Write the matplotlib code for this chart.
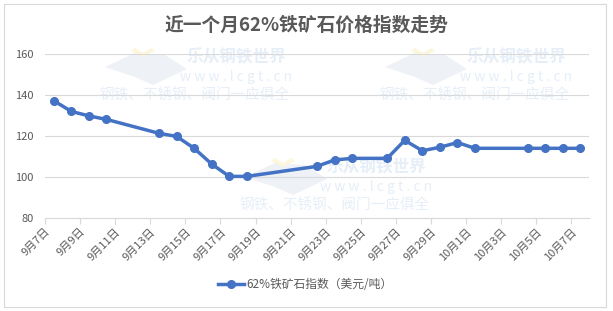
import pandas as pd
import numpy as np
import matplotlib
matplotlib.use("Agg")
import matplotlib.pyplot as plt
from matplotlib.patches import Polygon, Rectangle

plt.rcParams['font.family'] = ['Noto Sans CJK SC', 'DejaVu Sans']

# 数据
dates = ['2023-09-07', '2023-09-08', '2023-09-09', '2023-09-10', '2023-09-13',
         '2023-09-14', '2023-09-15', '2023-09-16', '2023-09-17', '2023-09-18',
         '2023-09-22', '2023-09-23', '2023-09-24', '2023-09-26', '2023-09-27',
         '2023-09-28', '2023-09-29', '2023-09-30', '2023-10-01', '2023-10-04',
         '2023-10-05', '2023-10-06', '2023-10-07']
values = [137.2, 132.0, 129.8, 128.1, 121.3,
          119.8, 114.0, 106.3, 100.3, 100.3,
          105.2, 108.3, 109.1, 109.1, 117.9,
          112.8, 114.5, 116.8, 114.0, 114.0,
          114.0, 114.0, 114.0]
series_name = '62%铁矿石指数（美元/吨）'
title = '近一个月62%铁矿石价格指数走势'
y_ticks = [80, 100, 120, 140, 160]

start = pd.Timestamp('2023-09-07')
end = pd.Timestamp('2023-10-07')
day_idx = np.array([(pd.Timestamp(d) - start).days for d in dates])
tick_days = pd.date_range(start, end, freq='2D')
tick_pos = [(d - start).days for d in tick_days]
tick_labels = [f'{d.month}月{d.day}日' for d in tick_days]

W, H = 613, 311
fig = plt.figure(figsize=(W / 100, H / 100), dpi=100)
fig.patch.set_facecolor('white')

# 外框
fig.patches.append(Rectangle((4 / W, 4 / H), 602 / W, 303 / H, transform=fig.transFigure,
                             fill=False, edgecolor='#d9d9d9', linewidth=0.8))

# 水印（很淡）
wm_color = '#e6eef8'
def watermark(x0, y0):
    # x0, y0: 左上角像素位置（logo）
    def px(x, y):
        return ((x0 + x) / W, 1 - (y0 + y) / H)
    logo = Polygon([px(0, 20), px(30, 6), px(60, 8), px(82, 22), px(48, 38), px(30, 30)], closed=True,
                   transform=fig.transFigure, facecolor='#eef1f6', edgecolor='none', zorder=0)
    chev = Polygon([px(26, 4), px(38, 10), px(50, 4), px(46, 1), px(38, 6), px(30, 1)], closed=True,
                   transform=fig.transFigure, facecolor='#fcf6dc', edgecolor='none', zorder=0)
    fig.patches.extend([logo, chev])
    fig.text((x0 + 131) / W, 1 - (y0 + 10) / H, '乐从钢铁世界', fontsize=12, fontweight='bold',
             color=wm_color, ha='center', va='center', zorder=0)
    fig.text((x0 + 131) / W, 1 - (y0 + 30) / H, 'w w w . l c g t . c n', fontsize=10,
             color=wm_color, ha='center', va='center', zorder=0)
    fig.text((x0 + 90) / W, 1 - (y0 + 48) / H, '钢铁、不锈钢、阀门一应俱全', fontsize=10.5,
             color=wm_color, ha='center', va='center', zorder=0)

watermark(105, 47)
watermark(385, 47)
watermark(245, 157)

ax = fig.add_axes([45 / W, 1 - 218 / H, 544 / W, 164 / H])
ax.set_facecolor('none')
ax.set_zorder(2)

ax.plot(day_idx + 0.5, values, color='#4472C4', linewidth=2.5, marker='o',
        markersize=5.5, label=series_name, zorder=3)

ax.set_xlim(0, 31)
ax.set_ylim(80, 160)
ax.set_yticks(y_ticks)
ax.set_xticks(tick_pos)
ax.set_xticklabels(tick_labels, rotation=45, ha='right', rotation_mode='anchor')
ax.grid(axis='y', color='#d9d9d9', linewidth=0.8)
ax.set_axisbelow(True)

for s in ['top', 'right', 'left']:
    ax.spines[s].set_visible(False)
ax.spines['bottom'].set_color('#d9d9d9')
ax.tick_params(axis='y', length=0, labelsize=8, labelcolor='#595959', pad=8)
ax.tick_params(axis='x', length=4, color='#d9d9d9', labelsize=8, labelcolor='#595959', pad=2)

fig.text(0.5, 1 - 25 / H, title, fontsize=13.5, fontweight='bold', color='#595959',
         ha='center', va='center')

fig.legend(loc='center', bbox_to_anchor=(305 / W, 1 - 285 / H), frameon=False,
           fontsize=8.5, labelcolor='#595959', handlelength=2.2, handletextpad=0.2)

fig.savefig('out.png', dpi=100)
